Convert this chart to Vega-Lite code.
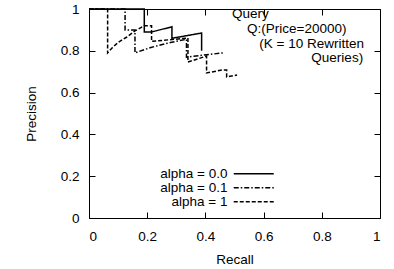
{
  "$schema": "https://vega.github.io/schema/vega-lite/v6.json",
  "width": 291,
  "height": 209,
  "autosize": {"type": "none"},
  "padding": {"left": 89, "top": 9, "right": 14, "bottom": 51},
  "config": {
    "view": {"stroke": "black", "strokeWidth": 1},
    "font": "Liberation Sans",
    "axis": {
      "grid": false,
      "domain": false,
      "tickColor": "black",
      "tickSize": -6,
      "tickWidth": 1,
      "labelFont": "Liberation Sans",
      "labelFontSize": 13.5,
      "labelColor": "black",
      "titleFont": "Liberation Sans",
      "titleFontSize": 13.5,
      "titleFontWeight": "normal",
      "titleColor": "black"
    },
    "legend": {
      "labelFont": "Liberation Sans",
      "labelFontSize": 13.5,
      "labelColor": "black"
    }
  },
  "resolve": {"axis": {"x": "independent", "y": "independent"}},
  "layer": [
    {
      "data": {
        "values": [
          {"series": "alpha = 0.0", "i": 0, "recall": 0.0, "precision": 1.0},
          {"series": "alpha = 0.0", "i": 1, "recall": 0.19, "precision": 1.0},
          {"series": "alpha = 0.0", "i": 2, "recall": 0.19, "precision": 0.89},
          {"series": "alpha = 0.0", "i": 3, "recall": 0.215, "precision": 0.89},
          {"series": "alpha = 0.0", "i": 4, "recall": 0.285, "precision": 0.915},
          {"series": "alpha = 0.0", "i": 5, "recall": 0.285, "precision": 0.86},
          {"series": "alpha = 0.0", "i": 6, "recall": 0.387, "precision": 0.885},
          {"series": "alpha = 0.0", "i": 7, "recall": 0.387, "precision": 0.8},
          {"series": "alpha = 0.1", "i": 0, "recall": 0.0, "precision": 1.0},
          {"series": "alpha = 0.1", "i": 1, "recall": 0.124, "precision": 1.0},
          {"series": "alpha = 0.1", "i": 2, "recall": 0.124, "precision": 0.9},
          {"series": "alpha = 0.1", "i": 3, "recall": 0.158, "precision": 0.9},
          {"series": "alpha = 0.1", "i": 4, "recall": 0.158, "precision": 0.79},
          {"series": "alpha = 0.1", "i": 5, "recall": 0.21, "precision": 0.815},
          {"series": "alpha = 0.1", "i": 6, "recall": 0.28, "precision": 0.84},
          {"series": "alpha = 0.1", "i": 7, "recall": 0.335, "precision": 0.855},
          {"series": "alpha = 0.1", "i": 8, "recall": 0.335, "precision": 0.77},
          {"series": "alpha = 0.1", "i": 9, "recall": 0.46, "precision": 0.79},
          {"series": "alpha = 1", "i": 0, "recall": 0.0, "precision": 1.0},
          {"series": "alpha = 1", "i": 1, "recall": 0.064, "precision": 1.0},
          {"series": "alpha = 1", "i": 2, "recall": 0.064, "precision": 0.79},
          {"series": "alpha = 1", "i": 3, "recall": 0.08, "precision": 0.815},
          {"series": "alpha = 1", "i": 4, "recall": 0.1, "precision": 0.84},
          {"series": "alpha = 1", "i": 5, "recall": 0.13, "precision": 0.866},
          {"series": "alpha = 1", "i": 6, "recall": 0.158, "precision": 0.895},
          {"series": "alpha = 1", "i": 7, "recall": 0.19, "precision": 0.92},
          {"series": "alpha = 1", "i": 8, "recall": 0.215, "precision": 0.92},
          {"series": "alpha = 1", "i": 9, "recall": 0.215, "precision": 0.845},
          {"series": "alpha = 1", "i": 10, "recall": 0.34, "precision": 0.861},
          {"series": "alpha = 1", "i": 11, "recall": 0.34, "precision": 0.746},
          {"series": "alpha = 1", "i": 12, "recall": 0.404, "precision": 0.775},
          {"series": "alpha = 1", "i": 13, "recall": 0.404, "precision": 0.694},
          {"series": "alpha = 1", "i": 14, "recall": 0.457, "precision": 0.708},
          {"series": "alpha = 1", "i": 15, "recall": 0.473, "precision": 0.708},
          {"series": "alpha = 1", "i": 16, "recall": 0.473, "precision": 0.675},
          {"series": "alpha = 1", "i": 17, "recall": 0.509, "precision": 0.684}
        ]
      },
      "mark": {"type": "line", "strokeWidth": 1.5, "color": "black"},
      "encoding": {
        "x": {
          "field": "recall",
          "type": "quantitative",
          "scale": {"domain": [0, 1], "nice": false, "zero": false},
          "axis": {
            "orient": "bottom",
            "values": [0, 0.2, 0.4, 0.6, 0.8, 1],
            "format": "~g",
            "title": "Recall",
            "labelPadding": 17,
            "titlePadding": 10
          }
        },
        "y": {
          "field": "precision",
          "type": "quantitative",
          "scale": {"domain": [0, 1], "nice": false, "zero": false},
          "axis": {
            "orient": "left",
            "values": [0, 0.2, 0.4, 0.6, 0.8, 1],
            "format": "~g",
            "title": "Precision",
            "labelPadding": 16,
            "titlePadding": 22
          }
        },
        "strokeDash": {
          "field": "series",
          "type": "nominal",
          "scale": {
            "domain": ["alpha = 0.0", "alpha = 0.1", "alpha = 1"],
            "range": [[1, 0], [5, 2, 1.5, 2], [4, 2]]
          },
          "legend": {
            "orient": "none",
            "legendX": 158,
            "legendY": 158,
            "title": null,
            "symbolType": "M-4,0H4",
            "symbolSize": 100,
            "symbolStrokeWidth": 1.5,
            "symbolStrokeColor": "black",
            "labelAlign": "right",
            "labelOffset": -33,
            "rowPadding": -1.5
          }
        },
        "order": {"field": "i", "type": "quantitative"}
      }
    },
    {
      "data": {"values": [{}]},
      "mark": {"type": "text", "align": "left", "baseline": "middle", "fontSize": 13.5, "font": "Liberation Sans", "color": "black"},
      "encoding": {
        "x": {"datum": 0.491, "type": "quantitative", "axis": {"orient": "top", "values": [0, 0.2, 0.4, 0.6, 0.8, 1], "labels": false, "title": null}},
        "y": {"datum": 0.976, "type": "quantitative", "axis": {"orient": "right", "values": [0, 0.2, 0.4, 0.6, 0.8, 1], "labels": false, "title": null}},
        "text": {"value": "Query"}
      }
    },
    {
      "data": {"values": [{}]},
      "mark": {"type": "text", "align": "left", "baseline": "middle", "fontSize": 13.5, "font": "Liberation Sans", "color": "black"},
      "encoding": {
        "x": {"datum": 0.543, "type": "quantitative", "axis": null},
        "y": {"datum": 0.904, "type": "quantitative", "axis": null},
        "text": {"value": "Q:(Price=20000)"}
      }
    },
    {
      "data": {"values": [{}]},
      "mark": {"type": "text", "align": "right", "baseline": "middle", "fontSize": 13.5, "font": "Liberation Sans", "color": "black"},
      "encoding": {
        "x": {"datum": 0.945, "type": "quantitative", "axis": null},
        "y": {"datum": 0.833, "type": "quantitative", "axis": null},
        "text": {"value": "(K = 10 Rewritten"}
      }
    },
    {
      "data": {"values": [{}]},
      "mark": {"type": "text", "align": "right", "baseline": "middle", "fontSize": 13.5, "font": "Liberation Sans", "color": "black"},
      "encoding": {
        "x": {"datum": 0.942, "type": "quantitative", "axis": null},
        "y": {"datum": 0.766, "type": "quantitative", "axis": null},
        "text": {"value": "Queries)"}
      }
    }
  ]
}
